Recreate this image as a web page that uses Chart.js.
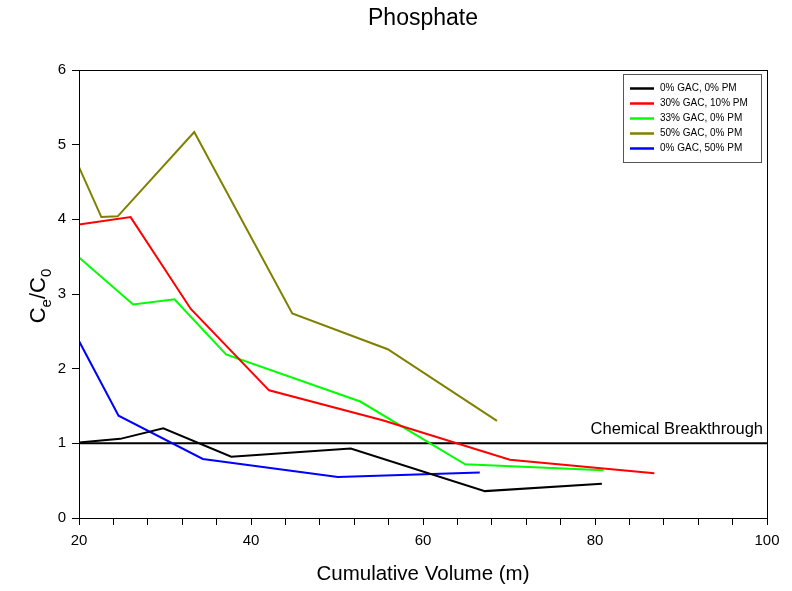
<!DOCTYPE html>
<html>
<head>
<meta charset="utf-8">
<script src="https://cdn.jsdelivr.net/npm/chart.js@4/dist/chart.umd.min.js"></script>
<style>
  body { margin: 0; background: #fff; }
  #wrap { width: 792px; height: 591px; }
</style>
</head>
<body>
<div id="wrap"><canvas id="phosChart" width="792" height="591"></canvas></div>
<script>
// series values (x = cumulative volume, y = Ce/C0)
const seriesLabels = ["0% GAC, 0% PM", "30% GAC, 10% PM", "33% GAC, 0% PM", "50% GAC, 0% PM", "0% GAC, 50% PM"];
const seriesColors = ["#000000", "#ff0000", "#00ff00", "#808000", "#0000ff"];

const gac0pm0X = [20, 24.8, 29.8, 37.7, 51.6, 67.2, 80.8];
const gac0pm0Y = [1.01, 1.06, 1.20, 0.82, 0.93, 0.36, 0.46];

const gac30pm10X = [20, 26.0, 33.0, 42.1, 55.3, 70.1, 86.9];
const gac30pm10Y = [3.93, 4.03, 2.80, 1.71, 1.31, 0.78, 0.60];

const gac33pm0X = [20, 26.3, 31.1, 37.1, 52.7, 64.9, 81.0];
const gac33pm0Y = [3.49, 2.86, 2.93, 2.19, 1.56, 0.72, 0.64];

const gac50pm0X = [20, 22.6, 24.5, 33.4, 44.8, 55.9, 68.6];
const gac50pm0Y = [4.70, 4.03, 4.04, 5.17, 2.74, 2.26, 1.30];

const gac0pm50X = [20, 24.6, 34.4, 50.1, 66.6];
const gac0pm50Y = [2.37, 1.37, 0.79, 0.55, 0.61];

const breakthroughX = [20, 100];
const breakthroughY = [1, 1];
const breakthroughLabel = "Chemical Breakthrough";

const allX = [gac0pm0X, gac30pm10X, gac33pm0X, gac50pm0X, gac0pm50X];
const allY = [gac0pm0Y, gac30pm10Y, gac33pm0Y, gac50pm0Y, gac0pm50Y];

const FONT = "'Liberation Sans', Arial, sans-serif";

function toPoints(xs, ys) {
  return xs.map((x, i) => ({ x: x, y: ys[i] }));
}

const datasets = seriesLabels.map((lab, i) => ({
  label: lab,
  data: toPoints(allX[i], allY[i]),
  borderColor: seriesColors[i],
  backgroundColor: seriesColors[i],
  borderWidth: 2,
  pointRadius: 0,
  tension: 0,
  fill: false
}));

// horizontal breakthrough line at y = 1
datasets.push({
  label: breakthroughLabel,
  data: toPoints(breakthroughX, breakthroughY),
  borderColor: "#000000",
  borderWidth: 2,
  pointRadius: 0,
  fill: false
});

// frame, y title with subscripts, breakthrough text and the boxed legend
const extrasPlugin = {
  id: "extras",
  afterDraw(chart) {
    const ctx = chart.ctx;
    const area = chart.chartArea;
    const yScale = chart.scales.y;
    ctx.save();

    // box round the plot
    ctx.strokeStyle = "#000";
    ctx.lineWidth = 1;
    ctx.strokeRect(Math.round(area.left) + 0.5, Math.round(area.top) + 0.5,
      Math.round(area.right - area.left), Math.round(area.bottom - area.top));

    // y axis title Ce/C0
    ctx.fillStyle = "#000";
    ctx.translate(37, (area.top + area.bottom) / 2 + 2);
    ctx.rotate(-Math.PI / 2);
    const big = "22px " + FONT, small = "15px " + FONT;
    const parts = [["C", big, 0], ["e", small, 6], ["/C", big, 0], ["0", small, 6]];
    let total = 0;
    parts.forEach(p => { ctx.font = p[1]; total += ctx.measureText(p[0]).width; });
    let px = -total / 2;
    ctx.textBaseline = "alphabetic";
    ctx.textAlign = "left";
    parts.forEach(p => {
      ctx.font = p[1];
      ctx.fillText(p[0], px, 8 + p[2]);
      px += ctx.measureText(p[0]).width;
    });
    ctx.setTransform(1, 0, 0, 1, 0, 0);

    // breakthrough label
    ctx.font = "16.5px " + FONT;
    ctx.textAlign = "right";
    ctx.textBaseline = "bottom";
    ctx.fillText(breakthroughLabel, area.right - 4, yScale.getPixelForValue(1) - 6);

    // legend
    const lx = 623, ly = 74, lw = 138, lh = 88;
    ctx.fillStyle = "#fff";
    ctx.fillRect(lx, ly, lw, lh);
    ctx.strokeStyle = "#555";
    ctx.lineWidth = 1;
    ctx.strokeRect(lx + 0.5, ly + 0.5, lw, lh);
    ctx.font = "10px " + FONT;
    ctx.textAlign = "left";
    ctx.textBaseline = "middle";
    seriesLabels.forEach((lab, i) => {
      const y = ly + 14.5 + i * 15;
      ctx.strokeStyle = seriesColors[i];
      ctx.lineWidth = 2.5;
      ctx.beginPath();
      ctx.moveTo(630, y);
      ctx.lineTo(654, y);
      ctx.stroke();
      ctx.fillStyle = "#000";
      ctx.fillText(lab, 660, y);
    });
    ctx.restore();
  }
};

new Chart(document.getElementById("phosChart"), {
  type: "line",
  data: { datasets: datasets },
  options: {
    responsive: false,
    animation: false,
    layout: { padding: { left: 0, right: 25, top: 0, bottom: 0 } },
    plugins: {
      legend: { display: false },
      tooltip: { enabled: false },
      title: {
        display: true,
        fullSize: false,
        text: "Phosphate",
        color: "#000",
        font: { family: FONT, size: 23, weight: "normal" },
        padding: { top: 5, bottom: 37.4 }
      }
    },
    scales: {
      x: {
        type: "linear",
        min: 20,
        max: 100,
        border: { display: true, color: "#000", width: 1 },
        grid: { display: true, drawOnChartArea: false, drawTicks: true, tickLength: 7, color: "#000" },
        ticks: {
          stepSize: 4,
          autoSkip: false,
          maxRotation: 0,
          color: "#000",
          padding: 7,
          font: { family: FONT, size: 15 },
          callback: v => (v % 20 === 0 ? v : "")
        },
        title: {
          display: true,
          text: "Cumulative Volume (m)",
          color: "#000",
          font: { family: FONT, size: 20.5 },
          padding: { top: 2, bottom: 4 }
        },
        afterFit(scale) { scale.height = 73; }
      },
      y: {
        type: "linear",
        min: 0,
        max: 6,
        border: { display: true, color: "#000", width: 1 },
        grid: { display: true, drawOnChartArea: false, drawTicks: true, tickLength: 7, color: "#000" },
        ticks: {
          stepSize: 1,
          color: "#000",
          padding: 6,
          font: { family: FONT, size: 15 }
        },
        afterFit(scale) { scale.width = 79; }
      }
    }
  },
  plugins: [extrasPlugin]
});
</script>
</body>
</html>
